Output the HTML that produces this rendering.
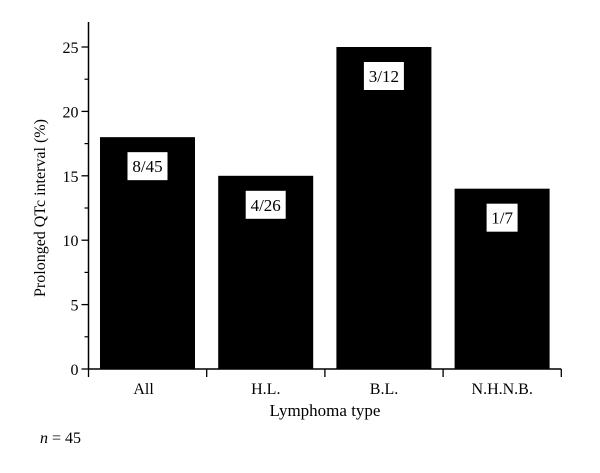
<!DOCTYPE html>
<html><head><meta charset="utf-8"><style>
html,body{margin:0;padding:0;background:#fff;width:600px;height:473px;overflow:hidden}
svg text{font-family:"Liberation Serif",serif;fill:#000}
</style></head><body>
<svg width="600" height="473">
<g id="plot"></g>
<text x="325" y="416" font-size="17" text-anchor="middle">Lymphoma type</text>
<text transform="translate(45,208) rotate(-90)" font-size="16" text-anchor="middle">Prolonged QTc interval (%)</text>
<text x="40" y="443" font-size="16"><tspan font-style="italic">n</tspan> = 45</text>
</svg>
<script>
const categories = ["All","H.L.","B.L.","N.H.N.B."];
const values = [18,15,25,14];
const barLabels = ["8/45","4/26","3/12","1/7"];
const yTicks = [0,5,10,15,20,25];
const NS="http://www.w3.org/2000/svg";
const g=document.getElementById('plot');
const x0=88.5,band=118.2,y0=369,yScale=v=>y0-v*12.88;
function mk(t,a,p){const e=document.createElementNS(NS,t);for(const k in a)e.setAttribute(k,a[k]);(p||g).appendChild(e);return e;}
const ya=mk('line',{x1:x0,y1:22,x2:x0,y2:y0,stroke:'#000','stroke-width':1.5});


const xa=mk('line',{x1:x0,y1:y0,x2:x0+band*categories.length,y2:y0,stroke:'#000','stroke-width':1.5});


yTicks.forEach(v=>{
 const y=yScale(v);
 mk('line',{x1:x0-7,y1:y,x2:x0,y2:y,stroke:'#000','stroke-width':1.3});
 const t=mk('text',{x:x0-10,y:y+6,'font-size':16,'text-anchor':'end'});t.textContent=v;
 
 
 if(v<25){const m=yScale(v+2.5);mk('line',{x1:x0-4,y1:m,x2:x0,y2:m,stroke:'#000','stroke-width':1.2});}
});
categories.forEach((c,i)=>{
 const bx=x0+band*i;
 mk('line',{x1:bx+band,y1:y0,x2:bx+band,y2:y0+8,stroke:'#000','stroke-width':1.3});
 if(i===0)mk('line',{x1:bx,y1:y0,x2:bx,y2:y0+8,stroke:'#000','stroke-width':1.3});
 const top=yScale(values[i]);
 const r=mk('rect',{x:bx+11.5,y:top,width:95,height:y0-top,fill:'#000'});
 
 
 const cx=bx+11.5+47.5;
 const w=barLabels[i].length*9+4;
 const b=mk('rect',{x:cx-w/2,y:top+15,width:w,height:28,fill:'#fff'});
 
 
 const lt=mk('text',{x:cx,y:top+35,'font-size':17,'text-anchor':'middle'});lt.textContent=barLabels[i];
 
 
 const xt=mk('text',{x:bx+band/2-4+(i>0?4:0),y:y0+25,'font-size':16,'text-anchor':'middle'});xt.textContent=c;
 
 
});
</script>
</body></html>
